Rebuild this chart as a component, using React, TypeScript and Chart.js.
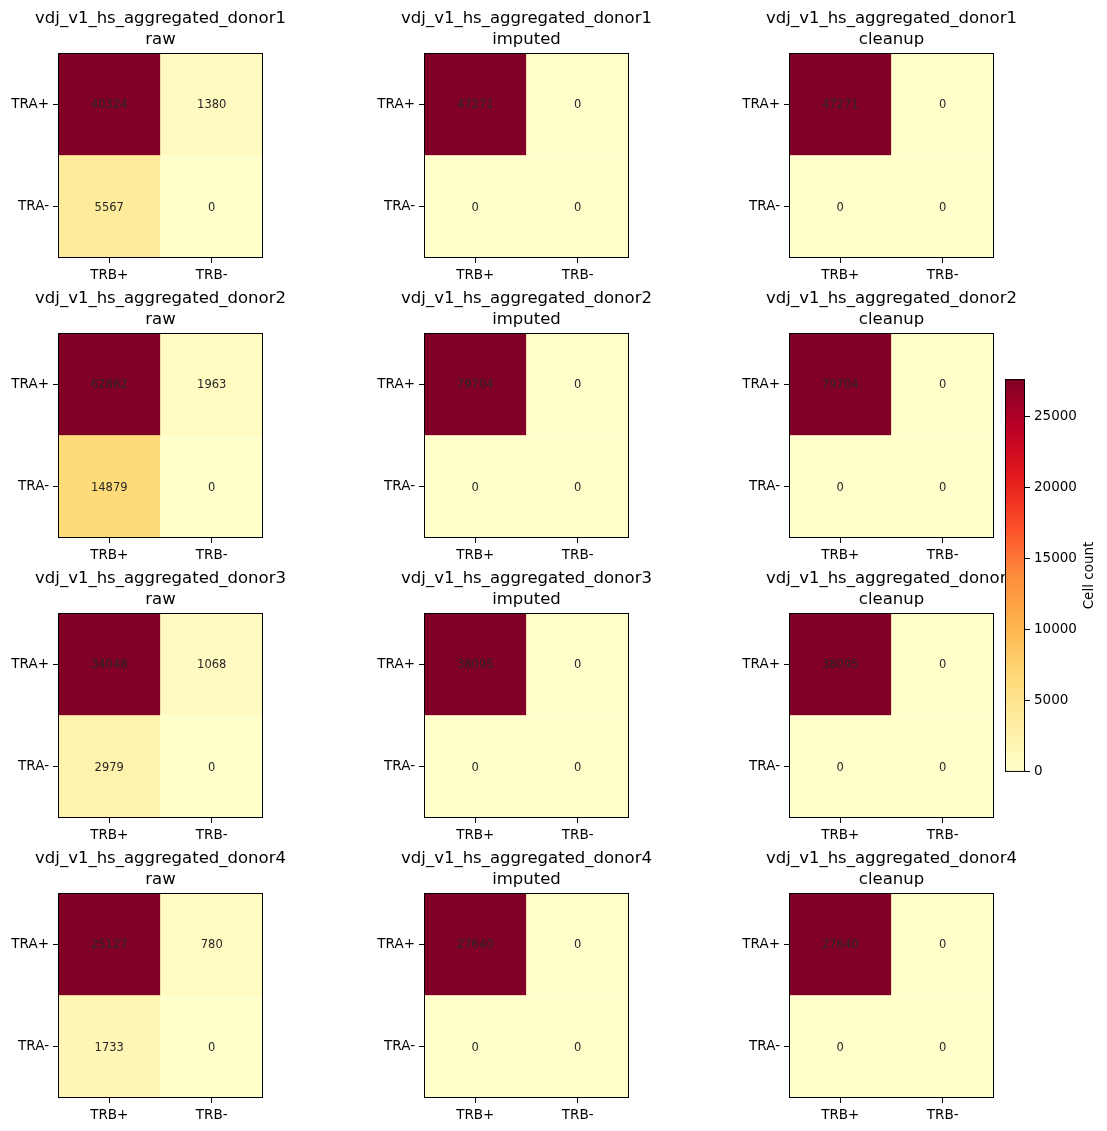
import React, { useEffect, useRef } from "react";
import { Chart, registerables } from "chart.js";

Chart.register(...registerables);
Chart.defaults.font.family = "DejaVu Sans";

// Sample names and processing stages
const donors = [
  "vdj_v1_hs_aggregated_donor1",
  "vdj_v1_hs_aggregated_donor2",
  "vdj_v1_hs_aggregated_donor3",
  "vdj_v1_hs_aggregated_donor4",
];
const stages = ["raw", "imputed", "cleanup"];
const rowLabels = ["TRA+", "TRA-"];
const colLabels = ["TRB+", "TRB-"];

// Cell counts per donor: [TRA+/TRB+, TRA+/TRB-, TRA-/TRB+, TRA-/TRB-]
const rawCounts = [
  [40324, 1380, 5567, 0],
  [62862, 1963, 14879, 0],
  [34048, 1068, 2979, 0],
  [25127, 780, 1733, 0],
];
const imputedCounts = [
  [47271, 0, 0, 0],
  [79704, 0, 0, 0],
  [38095, 0, 0, 0],
  [27640, 0, 0, 0],
];
const cleanupCounts = [
  [47271, 0, 0, 0],
  [79704, 0, 0, 0],
  [38095, 0, 0, 0],
  [27640, 0, 0, 0],
];
const countsByStage = [rawCounts, imputedCounts, cleanupCounts];

// Colour bar scale
const colorbarMax = 27640;
const colorbarTicks = [0, 5000, 10000, 15000, 20000, 25000];

// YlOrRd colour map
const ylOrRdStops = [
  "#ffffcc", "#ffeda0", "#fed976", "#feb24c", "#fd8d3c",
  "#fc4e2a", "#e31a1c", "#bd0026", "#800026",
];

function hexToRgb(h: string) {
  return [parseInt(h.slice(1, 3), 16), parseInt(h.slice(3, 5), 16), parseInt(h.slice(5, 7), 16)];
}

function ylOrRd(t: number) {
  const c = Math.max(0, Math.min(1, t)) * (ylOrRdStops.length - 1);
  const i = Math.min(Math.floor(c), ylOrRdStops.length - 2);
  const f = c - i;
  const a = hexToRgb(ylOrRdStops[i]);
  const b = hexToRgb(ylOrRdStops[i + 1]);
  const m = a.map((v, k) => Math.round(v + (b[k] - v) * f));
  return `rgb(${m[0]},${m[1]},${m[2]})`;
}

const PLOT_W = 205;
const PLOT_H = 205;
const Y_AXIS_W = 60;
const X_AXIS_H = 30;
const TOP_PAD = 53;
const RIGHT_PAD = 70;
const colLefts = [58, 424, 789];
const rowTops = [53, 333, 613, 893];

const frame = {
  id: "frame",
  afterDraw(chart: any) {
    const ca = chart.chartArea;
    const ctx = chart.ctx;
    ctx.save();
    ctx.strokeStyle = "#000";
    ctx.lineWidth = 1;
    ctx.strokeRect(ca.left + 0.5, ca.top + 0.5, ca.right - ca.left - 1, ca.bottom - ca.top - 1);
    ctx.restore();
  },
};

const cellText = {
  id: "cellText",
  afterDatasetsDraw(chart: any) {
    const ctx = chart.ctx;
    ctx.save();
    ctx.font = "11.5px 'DejaVu Sans'";
    ctx.fillStyle = "#262626";
    ctx.textAlign = "center";
    ctx.textBaseline = "middle";
    chart.data.datasets.forEach((ds: any, di: number) => {
      const meta = chart.getDatasetMeta(di);
      meta.data.forEach((el: any, i: number) => {
        const p = el.getCenterPoint();
        ctx.fillText(String(ds.counts[i]), p.x, p.y + 1);
      });
    });
    ctx.restore();
  },
};

const panelTitle = {
  id: "panelTitle",
  afterDraw(chart: any, _args: any, opts: any) {
    const ca = chart.chartArea;
    const ctx = chart.ctx;
    const cx = (ca.left + ca.right) / 2;
    ctx.save();
    ctx.font = "16.5px 'DejaVu Sans'";
    ctx.fillStyle = "#000";
    ctx.textAlign = "center";
    ctx.textBaseline = "middle";
    ctx.fillText(opts.lines[0], cx, 18.5);
    ctx.fillText(opts.lines[1], cx, 40);
    ctx.restore();
  },
};

function Panel({ donor, stage, counts, left, top }: any) {
  const ref = useRef<HTMLCanvasElement>(null);
  useEffect(() => {
    const max = Math.max(...counts);
    const col = (v: number) => ylOrRd(max > 0 ? v / max : 0);
    const chart = new Chart(ref.current as HTMLCanvasElement, {
      type: "bar",
      data: {
        labels: colLabels,
        datasets: [
          {
            label: rowLabels[1],
            data: [1, 1],
            counts: [counts[2], counts[3]],
            backgroundColor: [col(counts[2]), col(counts[3])],
            borderWidth: 0,
            barPercentage: 1,
            categoryPercentage: 1,
          } as any,
          {
            label: rowLabels[0],
            data: [1, 1],
            counts: [counts[0], counts[1]],
            backgroundColor: [col(counts[0]), col(counts[1])],
            borderWidth: 0,
            barPercentage: 1,
            categoryPercentage: 1,
          } as any,
        ],
      },
      options: {
        animation: false,
        responsive: false,
        layout: { padding: { top: TOP_PAD, right: RIGHT_PAD, left: 0, bottom: 0 } },
        plugins: {
          legend: { display: false },
          tooltip: { enabled: false },
          panelTitle: { lines: [donor, stage] },
        } as any,
        scales: {
          x: {
            stacked: true,
            grid: { offset: false, drawOnChartArea: false, tickLength: 5, color: "#000" },
            border: { display: false },
            ticks: { color: "#000", font: { size: 13.5 }, padding: 4, maxRotation: 0 },
            afterFit: (s: any) => {
              s.height = X_AXIS_H;
            },
          },
          y: {
            stacked: true,
            min: 0,
            max: 2,
            grid: { drawOnChartArea: false, tickLength: 5, color: "#000" },
            border: { display: false },
            ticks: {
              color: "#000",
              font: { size: 13.5 },
              padding: 4,
              callback: (v: any) => (v === 1.5 ? rowLabels[0] : rowLabels[1]),
            },
            afterBuildTicks: (s: any) => {
              s.ticks = [{ value: 0.5 }, { value: 1.5 }];
            },
            afterFit: (s: any) => {
              s.width = Y_AXIS_W;
            },
          },
        },
      } as any,
      plugins: [frame, cellText, panelTitle],
    });
    return () => chart.destroy();
  }, [donor, stage, counts]);
  return (
    <canvas
      ref={ref}
      width={Y_AXIS_W + PLOT_W + RIGHT_PAD}
      height={TOP_PAD + PLOT_H + X_AXIS_H}
      style={{ position: "absolute", left: left - Y_AXIS_W, top: top - TOP_PAD }}
    />
  );
}

const colorbarLabel = {
  id: "colorbarLabel",
  afterDraw(chart: any) {
    const ca = chart.chartArea;
    const ctx = chart.ctx;
    ctx.save();
    ctx.font = "13.5px 'DejaVu Sans'";
    ctx.fillStyle = "#000";
    ctx.textAlign = "center";
    ctx.textBaseline = "middle";
    ctx.translate(84, (ca.top + ca.bottom) / 2);
    ctx.rotate(-Math.PI / 2);
    ctx.fillText("Cell count", 0, 0);
    ctx.restore();
  },
};

function ColorBar() {
  const ref = useRef<HTMLCanvasElement>(null);
  useEffect(() => {
    const chart = new Chart(ref.current as HTMLCanvasElement, {
      type: "bar",
      data: {
        labels: [""],
        datasets: [
          {
            data: [colorbarMax],
            borderWidth: 0,
            barPercentage: 1,
            categoryPercentage: 1,
            backgroundColor: (c: any) => {
              const ca = c.chart.chartArea;
              if (!ca) return ylOrRdStops[0];
              const g = c.chart.ctx.createLinearGradient(0, ca.bottom, 0, ca.top);
              ylOrRdStops.forEach((s, i) => g.addColorStop(i / (ylOrRdStops.length - 1), s));
              return g;
            },
          } as any,
        ],
      },
      options: {
        animation: false,
        responsive: false,
        layout: { padding: { top: 10, bottom: 10, left: 0, right: 0 } },
        plugins: { legend: { display: false }, tooltip: { enabled: false } },
        scales: {
          x: { display: false },
          y: {
            position: "right",
            min: 0,
            max: colorbarMax,
            grid: { drawOnChartArea: false, tickLength: 5, color: "#000" },
            border: { display: false },
            ticks: {
              color: "#000",
              font: { size: 13.5 },
              padding: 4,
              callback: (v: any) => String(v),
            },
            afterBuildTicks: (s: any) => {
              s.ticks = colorbarTicks.map((v) => ({ value: v }));
            },
            afterFit: (s: any) => {
              s.width = 82;
            },
          },
        },
      } as any,
      plugins: [frame, colorbarLabel],
    });
    return () => chart.destroy();
  }, []);
  return (
    <canvas
      ref={ref}
      width={102}
      height={417}
      style={{ position: "absolute", left: 1005, top: 367, zIndex: 2 }}
    />
  );
}

export default function App() {
  return (
    <div style={{ position: "absolute", left: 0, top: 0, width: 1107, height: 1131, background: "#fff" }}>
      {donors.map((d, r) =>
        stages.map((s, c) => (
          <Panel
            key={`${r}-${c}`}
            donor={d}
            stage={s}
            counts={countsByStage[c][r]}
            left={colLefts[c]}
            top={rowTops[r]}
          />
        ))
      )}
      <ColorBar />
    </div>
  );
}
